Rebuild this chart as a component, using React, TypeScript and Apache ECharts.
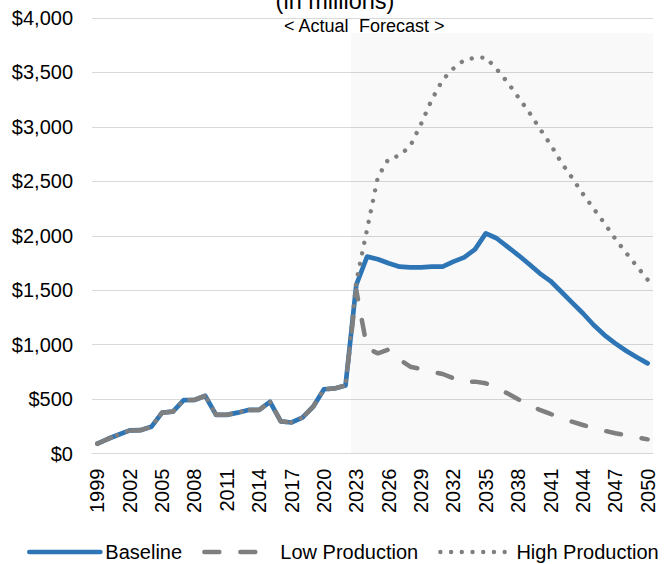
import React, { useEffect, useRef } from 'react';
import * as echarts from 'echarts';

const years: string[] = Array.from({ length: 52 }, (_, i) => String(1999 + i));

// 1999–2022 actuals (shared by all three scenarios)
const actuals = [90, 135, 175, 212, 214, 245, 375, 385, 490, 492, 530, 355, 355, 375, 400, 400, 475, 295, 285, 330, 430, 590, 598, 625];

// 2023–2050 forecasts
const baselineForecast = [1550, 1808, 1784, 1747, 1716, 1710, 1710, 1716, 1716, 1762, 1802, 1875, 2022, 1977, 1900, 1823, 1741, 1655, 1584, 1486, 1385, 1288, 1180, 1088, 1012, 944, 884, 828];
const lowForecast = [1500, 966, 920, 955, 865, 797, 776, 752, 730, 691, 654, 660, 645, 599, 553, 498, 448, 400, 363, 323, 292, 262, 231, 209, 186, 170, 149, 130];
const highForecast = [1580, 2060, 2540, 2708, 2736, 2824, 3026, 3251, 3431, 3536, 3614, 3635, 3637, 3532, 3412, 3274, 3137, 2985, 2838, 2673, 2532, 2385, 2249, 2115, 1972, 1844, 1720, 1597];

const seriesNames = ['Baseline', 'Low Production', 'High Production'];
const yTicks = { min: 0, max: 4000, interval: 500 };
const forecastStart = '2023';
const shadeTop = 3860;

const FONT = '"Liberation Sans", Arial, Helvetica, sans-serif';
const BLUE = '#2e75b6';
const GRAY = '#7f7f7f';

export default function App() {
  const ref = useRef<HTMLDivElement>(null);

  useEffect(() => {
    document.body.style.margin = '0';
    if (!ref.current) return;
    const chart = echarts.init(ref.current, undefined, { renderer: 'svg' });

    const baseline = actuals.concat(baselineForecast);
    const low = actuals.concat(lowForecast);
    const high = actuals.concat(highForecast);

    chart.setOption({
      animation: false,
      backgroundColor: '#ffffff',
      textStyle: { fontFamily: FONT },
      grid: { left: 92, right: 17, top: 18, bottom: 110.5, containLabel: false },
      legend: {
        data: seriesNames,
        left: 27,
        top: 541,
        itemWidth: 71,
        itemHeight: 22,
        itemGap: 20,
        padding: 0,
        textStyle: { fontSize: 20, color: '#000', fontFamily: FONT, lineHeight: 22 },
        itemStyle: { opacity: 0 },
        lineStyle: { width: 'inherit', type: 'inherit', cap: 'inherit' },
      },
      xAxis: {
        type: 'category',
        data: years,
        boundaryGap: true,
        axisTick: { show: false },
        axisLine: { show: true, lineStyle: { color: '#d9d9d9', width: 1 } },
        axisLabel: {
          interval: 2,
          rotate: 90,
          fontSize: 20,
          margin: 15,
          color: '#000',
          fontFamily: FONT,
        },
        splitLine: { show: false },
      },
      yAxis: {
        type: 'value',
        min: yTicks.min,
        max: yTicks.max,
        interval: yTicks.interval,
        axisLine: { show: false },
        axisTick: { show: false },
        axisLabel: {
          fontSize: 20,
          margin: 19,
          color: '#000',
          fontFamily: FONT,
          formatter: (v: number) => '$' + v.toLocaleString('en-US'),
        },
        splitLine: { lineStyle: { color: '#d9d9d9', width: 1 } },
      },
      series: [
        {
          id: 'base',
          name: seriesNames[0],
          type: 'line',
          data: baseline,
          symbol: 'none',
          color: BLUE,
          lineStyle: { color: BLUE, width: 4.7, cap: 'round', join: 'round' },
          z: 2,
        },
        {
          name: seriesNames[1],
          type: 'line',
          data: low,
          symbol: 'none',
          color: GRAY,
          lineStyle: { color: GRAY, width: 4.5, type: [15, 21], cap: 'round', join: 'round' },
          z: 3,
        },
        {
          name: seriesNames[2],
          type: 'line',
          data: high,
          symbol: 'none',
          color: GRAY,
          lineStyle: { color: GRAY, width: 4.4, type: [0.01, 10.7], cap: 'round', join: 'round' },
          z: 4,
        },
      ],
      graphic: [
        {
          type: 'text',
          x: 335,
          y: 1,
          style: {
            text: '(in millions)',
            fontSize: 23.5,
            fontFamily: FONT,
            fill: '#000',
            align: 'center',
            verticalAlign: 'middle',
          },
        },
        {
          type: 'text',
          x: 348.5,
          y: 25.5,
          style: {
            text: '< Actual',
            fontSize: 18,
            fontFamily: FONT,
            fill: '#000',
            align: 'right',
            verticalAlign: 'middle',
          },
        },
        {
          type: 'text',
          x: 359,
          y: 25.5,
          style: {
            text: 'Forecast >',
            fontSize: 18,
            fontFamily: FONT,
            fill: '#000',
            align: 'left',
            verticalAlign: 'middle',
          },
        },
      ],
    });

    const xA = chart.convertToPixel({ xAxisIndex: 0 }, forecastStart) as number;
    const xB = chart.convertToPixel({ xAxisIndex: 0 }, years[years.indexOf(forecastStart) + 1]) as number;
    const band = xB - xA;
    const xEnd = (chart.convertToPixel({ xAxisIndex: 0 }, years[years.length - 1]) as number) + band / 2;
    const yTop = chart.convertToPixel({ yAxisIndex: 0 }, shadeTop) as number;
    const yBottom = chart.convertToPixel({ yAxisIndex: 0 }, 0) as number;

    chart.setOption({
      series: [
        {
          id: 'base',
          markArea: {
            silent: true,
            itemStyle: { color: 'rgba(0,0,0,0.022)' },
            data: [[{ x: xA - band / 2, y: yTop }, { x: xEnd, y: yBottom }]],
          },
        },
      ],
    });

    return () => chart.dispose();
  }, []);

  return <div ref={ref} style={{ width: 670, height: 564 }} />;
}
